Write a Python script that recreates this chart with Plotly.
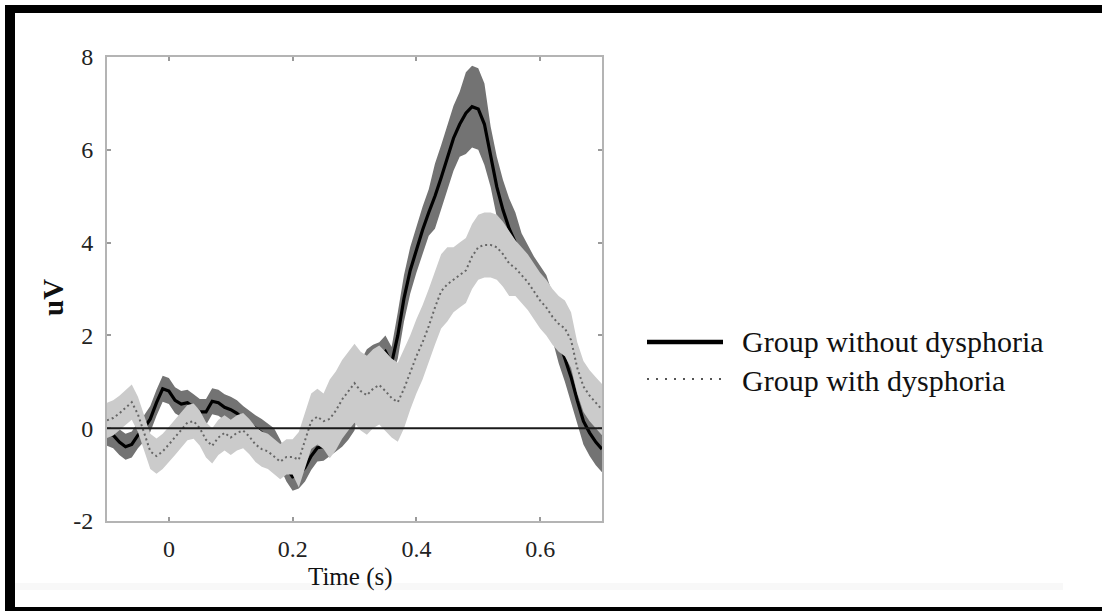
import plotly.graph_objects as go

# Sample times (s)
time_s = [round(-0.10 + 0.01 * i, 2) for i in range(81)]

# Group without dysphoria: grand-average ERP (uV) and half-width of shaded band
no_dys_mean = [
    -0.10, -0.15, -0.30, -0.40, -0.35, -0.15, 0.00, 0.20, 0.55, 0.85,
    0.80, 0.60, 0.52, 0.55, 0.45, 0.35, 0.35, 0.58, 0.55, 0.45,
    0.40, 0.32, 0.20, 0.10, 0.00, -0.10, -0.20, -0.30, -0.55, -0.85,
    -1.05, -1.00, -0.85, -0.60, -0.42, -0.40, -0.30, -0.20, -0.10, 0.05,
    0.25, 1.10, 1.35, 1.45, 1.50, 1.65, 1.40, 2.00, 2.80, 3.40,
    3.85, 4.27, 4.65, 5.00, 5.40, 5.85, 6.25, 6.55, 6.79, 6.93,
    6.88, 6.55, 5.85, 5.20, 4.70, 4.30, 4.00, 3.70, 3.45, 3.20,
    3.00, 2.80, 2.40, 1.90, 1.50, 1.10, 0.60, 0.15, -0.10, -0.30,
    -0.45,
]
no_dys_err = (
    [0.28] * 25 + [0.30] * 16 + [0.35] * 6 + [0.50] * 6 +
    [0.70] * 5 + [0.88] * 4 + [0.65] * 5 + [0.50] * 14
)

# Group with dysphoria
dys_mean = [
    0.17, 0.22, 0.32, 0.45, 0.56, 0.30, -0.10, -0.50, -0.60, -0.50,
    -0.35, -0.20, -0.05, 0.12, 0.15, 0.00, -0.25, -0.38, -0.20, -0.10,
    -0.20, -0.10, -0.05, -0.18, -0.35, -0.45, -0.50, -0.60, -0.72, -0.62,
    -0.62, -0.68, -0.25, 0.15, 0.25, 0.15, 0.20, 0.38, 0.62, 0.80,
    0.97, 0.80, 0.71, 0.85, 0.93, 0.80, 0.65, 0.56, 0.85, 1.20,
    1.55, 1.85, 2.20, 2.60, 2.95, 3.10, 3.20, 3.30, 3.40, 3.70,
    3.90, 3.95, 3.95, 3.90, 3.75, 3.55, 3.45, 3.30, 3.15, 2.95,
    2.75, 2.60, 2.40, 2.25, 2.15, 1.90, 1.30, 0.90, 0.70, 0.55,
    0.40,
]
dys_err = (
    [0.38] * 31 + [0.60] * 5 + [0.85] * 13 + [0.80] * 7 +
    [0.70] * 10 + [0.60] * 10 + [0.55] * 5
)

x_ticks = [0, 0.2, 0.4, 0.6]
y_ticks = [-2, 0, 2, 4, 6, 8]
legend_labels = ["Group without dysphoria", "Group with dysphoria"]

FONT = "Liberation Serif, Times New Roman, serif"

# plot-area edges in pixels (for placing decorations)
W, H = 1102, 611
L, R, T, B = 107, 602, 57, 521


def px(x):
    return (x - L) / (R - L)


def py(y):
    return (B - y) / (B - T)


def band(t, m, e, color):
    upper = [a + b for a, b in zip(m, e)]
    lower = [a - b for a, b in zip(m, e)]
    return go.Scatter(
        x=t + t[::-1], y=upper + lower[::-1], fill="toself",
        fillcolor=color, line=dict(width=0), mode="lines",
        hoverinfo="skip", showlegend=False,
    )


fig = go.Figure()
fig.add_trace(band(time_s, no_dys_mean, no_dys_err, "#737373"))
fig.add_trace(go.Scatter(x=time_s, y=no_dys_mean, mode="lines",
                         line=dict(color="#000000", width=3.2),
                         name=legend_labels[0], showlegend=False))
fig.add_trace(band(time_s, dys_mean, dys_err, "#cbcbcb"))
fig.add_trace(go.Scatter(x=time_s, y=dys_mean, mode="lines",
                         line=dict(color="#666666", width=2, dash="2px,3px"),
                         name=legend_labels[1], showlegend=False))

shapes = [
    # zero reference line
    dict(type="line", xref="paper", yref="y", x0=0, x1=1, y0=0, y1=0,
         line=dict(color="#1a1a1a", width=2), layer="above"),
    # legend samples
    dict(type="line", xref="paper", yref="paper", x0=px(647), x1=px(723),
         y0=py(342), y1=py(342), line=dict(color="#000000", width=4.5)),
    dict(type="line", xref="paper", yref="paper", x0=px(647), x1=px(723),
         y0=py(379), y1=py(379),
         line=dict(color="#555555", width=2, dash="2px,7px")),
    # faint strip near the bottom
    dict(type="rect", xref="paper", yref="paper", x0=px(15), x1=px(1063),
         y0=py(590), y1=py(583), fillcolor="#f8f8f8", line=dict(width=0),
         layer="below"),
    # outer black frame (left, top, bottom)
    dict(type="rect", xref="paper", yref="paper", x0=px(5), x1=px(15),
         y0=py(611), y1=py(5), fillcolor="#000000", line=dict(width=0)),
    dict(type="rect", xref="paper", yref="paper", x0=px(5), x1=px(1102),
         y0=py(13), y1=py(5), fillcolor="#000000", line=dict(width=0)),
    dict(type="rect", xref="paper", yref="paper", x0=px(5), x1=px(1102),
         y0=py(611), y1=py(607), fillcolor="#000000", line=dict(width=0)),
]

annotations = [
    dict(text="uV", xref="paper", yref="paper", x=px(53), y=py(298),
         textangle=-90, showarrow=False, xanchor="center", yanchor="middle",
         font=dict(family=FONT, size=29, color="#111111")),
    dict(text="Time (s)", xref="paper", yref="paper", x=px(350), y=py(577),
         showarrow=False, xanchor="center", yanchor="middle",
         font=dict(family=FONT, size=25, color="#111111")),
    dict(text=legend_labels[0], xref="paper", yref="paper", x=px(740),
         y=py(341), showarrow=False, xanchor="left", yanchor="middle",
         font=dict(family=FONT, size=30, color="#111111")),
    dict(text=legend_labels[1], xref="paper", yref="paper", x=px(740),
         y=py(380), showarrow=False, xanchor="left", yanchor="middle",
         font=dict(family=FONT, size=30, color="#111111")),
]

axis_common = dict(
    showgrid=False, zeroline=False, showline=True, linecolor="#b4b4b4",
    linewidth=2, mirror="allticks", ticks="inside", ticklen=4,
    tickwidth=1.5, tickcolor="#9a9a9a",
    tickfont=dict(family=FONT, size=24, color="#222222"),
)

fig.update_layout(
    width=W, height=H, autosize=False,
    margin=dict(l=L, r=W - R, t=T, b=H - B, pad=0),
    paper_bgcolor="white", plot_bgcolor="white",
    shapes=shapes, annotations=annotations, showlegend=False,
    xaxis=dict(range=[-0.1, 0.7], tickvals=x_ticks,
               ticktext=[f"{v:g}" for v in x_ticks], ticklabelstandoff=5,
               **axis_common),
    yaxis=dict(range=[-2, 8], tickvals=y_ticks,
               ticktext=[f"{v:g}" for v in y_ticks], ticklabelstandoff=7,
               **axis_common),
)
fig.update_annotations(font_weight="bold", selector=dict(text="uV"))

fig.write_html("out.html")
